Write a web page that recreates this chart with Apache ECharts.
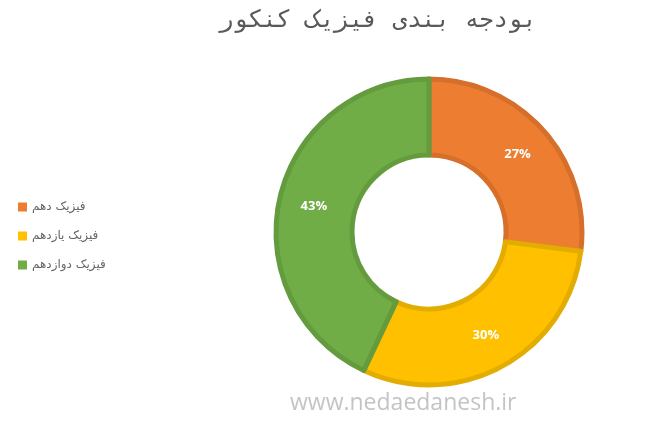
<!DOCTYPE html>
<html><head><meta charset="utf-8">
<script src="https://cdn.jsdelivr.net/npm/echarts@6/dist/echarts.min.js"></script>
<style>html,body{margin:0;padding:0;background:#fff}#c{width:663px;height:427px}</style>
</head><body><div id="c"></div>
<script>
const categories = ['فیزیک دهم', 'فیزیک یازدهم', 'فیزیک دوازدهم'];
const values = [27, 30, 43];
const colors = ['#ED7D31', '#FFC000', '#70AD47'];
const borderColors = ['#D66F2A', '#E3AC00', '#639B3E'];
const titleText = 'بودجه بندی فیزیک کنکور';
const watermark = 'www.nedaedanesh.ir';

const chart = echarts.init(document.getElementById('c'));
chart.setOption({
  animation: false,
  title: {
    text: titleText,
    left: 373, top: 4, textAlign: 'center',
    textStyle: { fontFamily: 'DejaVu Sans Mono', fontSize: 24, fontWeight: 'normal', color: '#595959' }
  },
  legend: {
    orient: 'vertical', left: 13, top: 196, itemGap: 17,
    itemWidth: 9, itemHeight: 9, icon: 'rect',
    itemStyle: { borderWidth: 0 },
    textStyle: { fontFamily: 'DejaVu Sans', fontSize: 12, color: '#666' },
    data: categories
  },
  graphic: [{
    type: 'text', left: 290, top: 392,
    style: { text: watermark, fontFamily: 'Open Sans', fontSize: 23, fill: '#C4C4C4' }
  }],
  series: [{
    type: 'pie',
    center: [429, 232],
    radius: [77, 153],
    startAngle: 90,
    clockwise: true,
    label: {
      show: true, position: 'inside', formatter: '{d}%',
      color: '#fff', fontWeight: 'bold', fontSize: 13, fontFamily: 'Open Sans'
    },
    labelLine: { show: false },
    emphasis: { disabled: true },
    data: categories.map((n, i) => ({
      name: n, value: values[i],
      itemStyle: { color: colors[i], borderColor: borderColors[i], borderWidth: 5 }
    }))
  }]
});
</script></body></html>
